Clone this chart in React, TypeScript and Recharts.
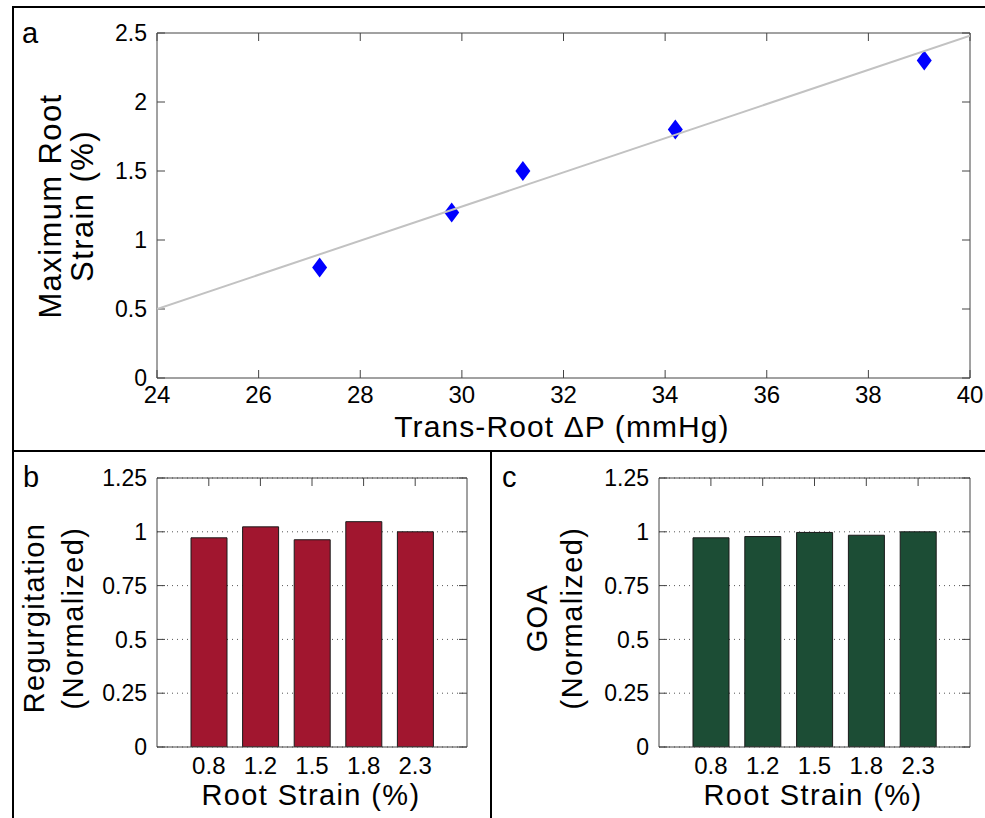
import React from 'react';
import {
  ScatterChart, Scatter, BarChart, Bar, XAxis, YAxis, CartesianGrid, Label,
} from 'recharts';

// ---------- Data ----------
const pressure = [27.2, 29.8, 31.2, 34.2, 39.1];
const maxStrain = [0.8, 1.2, 1.5, 1.8, 2.3];
const fitX = [24, 40];
const fitY = [0.5, 2.48];
const xTicksA = [24, 26, 28, 30, 32, 34, 36, 38, 40];
const yTicksA = [0, 0.5, 1, 1.5, 2, 2.5];

const strainLabels = ['0.8', '1.2', '1.5', '1.8', '2.3'];
const regurgitation = [0.972, 1.023, 0.963, 1.047, 1.0];
const goa = [0.972, 0.978, 0.997, 0.984, 1.0];
const yTicksBC = [0, 0.25, 0.5, 0.75, 1, 1.25];

const pointsA = pressure.map((x, i) => ({ x, y: maxStrain[i] }));
const fitA = fitX.map((x, i) => ({ x, y: fitY[i] }));
const dataB = strainLabels.map((label, i) => ({ label, v: regurgitation[i] }));
const dataC = strainLabels.map((label, i) => ({ label, v: goa[i] }));

// ---------- Styles ----------
const FONT = '"Liberation Sans", Arial, Helvetica, sans-serif';
const AXIS = '#444444';
const Y_TICK_FONT = { fontSize: 23, fill: '#000', fontFamily: FONT };
const X_TICK_FONT_A = { fontSize: 24, fill: '#000', fontFamily: FONT };
const X_TICK_FONT_BC = { fontSize: 24, fill: '#000', fontFamily: FONT };
const LABEL_SIZE = 29;
const LS = 1.4;

const YW = 60; // left axis width
const RW = 10; // right mirror axis width
const BH = 30; // bottom axis height
const TH = 10; // top mirror axis height

const Diamond = (props: any) => {
  const { cx, cy } = props;
  if (cx == null || cy == null) return <g />;
  const w = 7.5, h = 10;
  return (
    <path
      d={`M${cx},${cy - h} L${cx + w},${cy} L${cx},${cy + h} L${cx - w},${cy} Z`}
      fill="#0000ff"
    />
  );
};

const Empty = () => <g />;

const HText = ({ x, y, text, anchor = 'middle', size = LABEL_SIZE, ls = LS }: any) => (
  <text x={x} y={y} textAnchor={anchor} fontSize={size} letterSpacing={ls} fontFamily={FONT} fill="#000">
    {text}
  </text>
);

const VText = ({ x, y, text, size = LABEL_SIZE, ls = LS }: any) => (
  <text
    x={x}
    y={y}
    transform={`rotate(-90 ${x} ${y})`}
    textAnchor="middle"
    fontSize={size}
    letterSpacing={ls}
    fontFamily={FONT}
    fill="#000"
  >
    {text}
  </text>
);

// ---------- Panels ----------
const PanelA = () => (
  <ScatterChart
    width={985}
    height={450}
    margin={{ top: 33 - TH, right: 15 - RW, bottom: 72 - BH, left: 157 - YW }}
  >
    <XAxis
      xAxisId="b"
      type="number"
      dataKey="x"
      domain={[24, 40]}
      ticks={xTicksA}
      allowDataOverflow
      height={BH}
      stroke={AXIS}
      tickSize={-8}
      tickMargin={16}
      tick={X_TICK_FONT_A}
      interval={0}
    >
      <Label
        content={() => (
          <g>
            <HText x={22} y={43} text="a" anchor="start" ls={0} />
            <HText x={562} y={437} text="Trans-Root ΔP (mmHg)" size={30} ls={1.1} />
            <VText x={61} y={206} text="Maximum Root" size={31} ls={1.4} />
            <VText x={93} y={206} text="Strain (%)" size={31} ls={1.4} />
          </g>
        )}
      />
    </XAxis>
    <XAxis
      xAxisId="t"
      orientation="top"
      type="number"
      dataKey="x"
      domain={[24, 40]}
      ticks={xTicksA}
      allowDataOverflow
      height={TH}
      stroke={AXIS}
      tickSize={-8}
      tick={Empty}
      interval={0}
    />
    <YAxis
      yAxisId="l"
      type="number"
      dataKey="y"
      domain={[0, 2.5]}
      ticks={yTicksA}
      allowDataOverflow
      width={YW}
      stroke={AXIS}
      tickSize={-8}
      tickMargin={18}
      tick={Y_TICK_FONT}
      interval={0}
    />
    <YAxis
      yAxisId="r"
      orientation="right"
      type="number"
      dataKey="y"
      domain={[0, 2.5]}
      ticks={yTicksA}
      allowDataOverflow
      width={RW}
      stroke={AXIS}
      tickSize={-8}
      tick={Empty}
      interval={0}
    />
    <Scatter
      xAxisId="b"
      yAxisId="l"
      data={pointsA}
      shape={Diamond}
      isAnimationActive={false}
    />
    <Scatter
      xAxisId="b"
      yAxisId="l"
      data={fitA}
      line={{ stroke: '#c2c2c2', strokeWidth: 2 }}
      shape={Empty}
      isAnimationActive={false}
    />
  </ScatterChart>
);

const BarPanel = ({ data, color, letter, yLines, offX, labelX, letterX, yLabelXs }: any) => {
  const w = offX === 14 ? 476 : 493;
  const right = offX === 14 ? 23 : 15;
  const left = offX === 14 ? 143 : 167;
  return (
    <BarChart
      width={w}
      height={366}
      data={data}
      margin={{ top: 26 - TH, right: right - RW, bottom: 71 - BH, left: left - YW }}
      barSize={36}
    >
      <CartesianGrid
        yAxisId="l"
        xAxisId="b"
        vertical={false}
        stroke="#555"
        strokeDasharray="1 4"
      />
      <XAxis
        xAxisId="b"
        dataKey="label"
        type="category"
        padding={{ left: 26, right: 26 }}
        height={BH}
        stroke={AXIS}
        tickLine={false}
        tickSize={-8}
        tickMargin={18}
        tick={X_TICK_FONT_BC}
        interval={0}
      >
        <Label
          content={() => (
            <g>
              <HText x={letterX - offX} y={487 - 452} text={letter} anchor="start" ls={0} />
              <g transform={`translate(0 ${-452})`}>
                <HText x={labelX - offX} y={805} text="Root Strain (%)" />
                <VText x={yLabelXs[0] - offX} y={618} text={yLines[0]} />
                <VText x={yLabelXs[1] - offX} y={618} text={yLines[1]} />
              </g>
            </g>
          )}
        />
      </XAxis>
      <XAxis
        xAxisId="t"
        orientation="top"
        dataKey="label"
        type="category"
        padding={{ left: 26, right: 26 }}
        height={TH}
        stroke={AXIS}
        tickSize={-8}
        tick={Empty}
        interval={0}
      />
      <YAxis
        yAxisId="l"
        type="number"
        domain={[0, 1.25]}
        ticks={yTicksBC}
        allowDataOverflow
        width={YW}
        stroke={AXIS}
        tickSize={-8}
        tickMargin={18}
        tick={Y_TICK_FONT}
        interval={0}
      />
      <YAxis
        yAxisId="r"
        orientation="right"
        type="number"
        domain={[0, 1.25]}
        ticks={yTicksBC}
        allowDataOverflow
        width={RW}
        stroke={AXIS}
        tickSize={-8}
        tick={Empty}
        interval={0}
      />
      <Bar
        xAxisId="b"
        yAxisId="l"
        dataKey="v"
        fill={color}
        stroke="#1a1a1a"
        strokeWidth={1}
        isAnimationActive={false}
      />
    </BarChart>
  );
};

export default function App() {
  return (
    <div
      style={{
        position: 'absolute',
        left: 0,
        top: 0,
        width: 985,
        height: 818,
        background: '#fff',
        overflow: 'hidden',
      }}
    >
      <div style={{ position: 'absolute', left: 0, top: 0 }}>
        <PanelA />
      </div>
      <div style={{ position: 'absolute', left: 14, top: 452 }}>
        <BarPanel
          data={dataB}
          color="#a1162f"
          letter="b"
          yLines={['Regurgitation', '(Normalized)']}
          offX={14}
          labelX={311}
          letterX={23}
          yLabelXs={[44, 83]}
        />
      </div>
      <div style={{ position: 'absolute', left: 492, top: 452 }}>
        <BarPanel
          data={dataC}
          color="#1c4d35"
          letter="c"
          yLines={['GOA', '(Normalized)']}
          offX={492}
          labelX={813}
          letterX={502}
          yLabelXs={[547, 582]}
        />
      </div>
      {/* frame */}
      <div style={{ position: 'absolute', left: 12, top: 6, width: 973, height: 2, background: '#000' }} />
      <div style={{ position: 'absolute', left: 12, top: 6, width: 2, height: 812, background: '#000' }} />
      <div style={{ position: 'absolute', left: 12, top: 450, width: 973, height: 2, background: '#000' }} />
      <div style={{ position: 'absolute', left: 490, top: 450, width: 2, height: 368, background: '#000' }} />
    </div>
  );
}
